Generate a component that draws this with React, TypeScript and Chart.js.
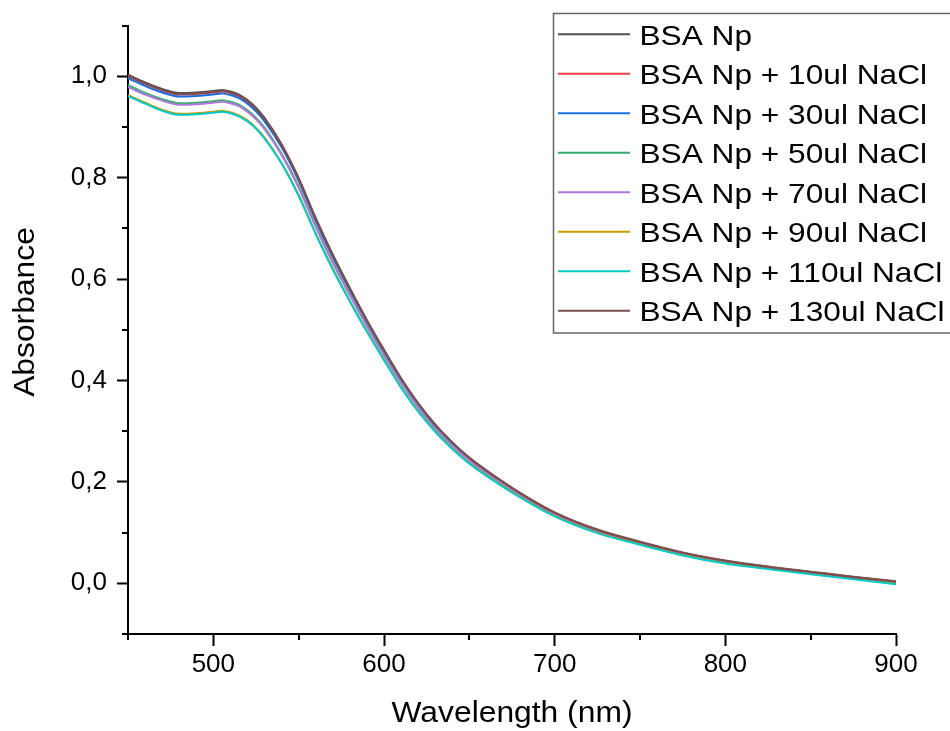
import React, { useEffect, useRef } from "react";
import { Chart, registerables } from "chart.js";

Chart.register(...registerables);

const wavelengths = [450, 460, 470, 480, 490, 500, 505, 510, 515, 520, 525, 530, 540, 550, 560, 570, 580, 590, 600, 610, 620, 630, 640, 650, 660, 680, 700, 725, 750, 775, 800, 825, 850, 875, 900];

const bsaNp = [1.003, 0.988, 0.975, 0.967, 0.968, 0.971, 0.973, 0.970, 0.964, 0.953, 0.938, 0.918, 0.866, 0.799, 0.720, 0.648, 0.582, 0.519, 0.460, 0.404, 0.355, 0.313, 0.278, 0.248, 0.223, 0.178, 0.140, 0.106, 0.082, 0.061, 0.045, 0.033, 0.023, 0.013, 0.004];
const nacl10 = [1.000, 0.985, 0.972, 0.964, 0.965, 0.968, 0.970, 0.967, 0.961, 0.950, 0.935, 0.915, 0.863, 0.797, 0.718, 0.646, 0.580, 0.517, 0.459, 0.403, 0.354, 0.312, 0.277, 0.247, 0.222, 0.177, 0.139, 0.105, 0.081, 0.060, 0.044, 0.032, 0.022, 0.012, 0.003];
const nacl30 = [0.996, 0.981, 0.968, 0.960, 0.961, 0.964, 0.966, 0.963, 0.957, 0.946, 0.931, 0.911, 0.860, 0.794, 0.715, 0.643, 0.578, 0.515, 0.457, 0.401, 0.353, 0.311, 0.276, 0.246, 0.221, 0.176, 0.138, 0.104, 0.080, 0.059, 0.043, 0.031, 0.021, 0.011, 0.002];
const nacl50 = [0.983, 0.967, 0.955, 0.947, 0.948, 0.951, 0.953, 0.950, 0.944, 0.933, 0.918, 0.899, 0.847, 0.783, 0.705, 0.634, 0.570, 0.508, 0.451, 0.396, 0.348, 0.306, 0.272, 0.243, 0.218, 0.174, 0.136, 0.103, 0.079, 0.058, 0.042, 0.030, 0.020, 0.010, 0.001];
const nacl70 = [0.979, 0.964, 0.952, 0.944, 0.945, 0.948, 0.950, 0.947, 0.941, 0.930, 0.915, 0.896, 0.845, 0.780, 0.703, 0.632, 0.568, 0.506, 0.449, 0.395, 0.347, 0.305, 0.271, 0.242, 0.217, 0.173, 0.136, 0.102, 0.079, 0.058, 0.042, 0.030, 0.020, 0.010, 0.001];
const nacl90 = [0.963, 0.948, 0.934, 0.926, 0.927, 0.930, 0.932, 0.929, 0.923, 0.913, 0.898, 0.879, 0.829, 0.766, 0.690, 0.621, 0.557, 0.497, 0.441, 0.387, 0.340, 0.300, 0.266, 0.237, 0.213, 0.170, 0.133, 0.100, 0.077, 0.056, 0.040, 0.029, 0.019, 0.009, 0.000];
const nacl110 = [0.961, 0.946, 0.932, 0.924, 0.925, 0.928, 0.930, 0.927, 0.921, 0.911, 0.897, 0.877, 0.828, 0.764, 0.689, 0.619, 0.556, 0.496, 0.440, 0.386, 0.339, 0.299, 0.265, 0.236, 0.212, 0.169, 0.132, 0.099, 0.076, 0.055, 0.039, 0.028, 0.018, 0.008, -0.002];
const nacl130 = [1.001, 0.986, 0.973, 0.965, 0.966, 0.969, 0.971, 0.968, 0.962, 0.951, 0.936, 0.916, 0.864, 0.798, 0.719, 0.647, 0.581, 0.518, 0.460, 0.404, 0.355, 0.313, 0.278, 0.247, 0.222, 0.177, 0.139, 0.105, 0.081, 0.060, 0.044, 0.032, 0.022, 0.012, 0.003];

const seriesLabels = ["BSA Np", "BSA Np + 10ul NaCl", "BSA Np + 30ul NaCl", "BSA Np + 50ul NaCl", "BSA Np + 70ul NaCl", "BSA Np + 90ul NaCl", "BSA Np + 110ul NaCl", "BSA Np + 130ul NaCl"];
const seriesValues = [bsaNp, nacl10, nacl30, nacl50, nacl70, nacl90, nacl110, nacl130];
const seriesColors = ["#515151", "#F14040", "#1A6FDF", "#37AD6B", "#B177DE", "#CC9900", "#00CBCC", "#7D4E4E"];

const xMajorTicks = [500, 600, 700, 800, 900];
const yMajorTicks = [0, 0.2, 0.4, 0.6, 0.8, 1.0];
const xMinorTicks = [450, 550, 650, 750, 850];
const yMinorTicks = [-0.1, 0.1, 0.3, 0.5, 0.7, 0.9, 1.1];

const xTitle = "Wavelength (nm)";
const yTitle = "Absorbance";
const FONT = "'Liberation Sans', Arial, sans-serif";

const decorPlugin = {
  id: "decor",
  afterDraw(chart: any) {
    const ctx = chart.ctx;
    const xs = chart.scales.x;
    const ys = chart.scales.y;
    const area = chart.chartArea;
    ctx.save();
    ctx.strokeStyle = "#000";
    ctx.lineWidth = 2;
    xMinorTicks.forEach((v) => {
      const px = Math.round(xs.getPixelForValue(v));
      ctx.beginPath();
      ctx.moveTo(px, area.bottom);
      ctx.lineTo(px, area.bottom + 6);
      ctx.stroke();
    });
    yMinorTicks.forEach((v) => {
      const py = Math.round(ys.getPixelForValue(v));
      ctx.beginPath();
      ctx.moveTo(area.left, py);
      ctx.lineTo(area.left - 6, py);
      ctx.stroke();
    });
    ctx.fillStyle = "#000";
    ctx.font = `30px ${FONT}`;
    ctx.textAlign = "center";
    ctx.textBaseline = "alphabetic";
    ctx.save();
    ctx.translate((area.left + area.right) / 2, 722);
    ctx.scale(1.06, 1);
    ctx.fillText(xTitle, 0, 0);
    ctx.restore();
    ctx.save();
    ctx.translate(34, 312);
    ctx.rotate(-Math.PI / 2);
    ctx.scale(1.06, 1);
    ctx.fillText(yTitle, 0, 0);
    ctx.restore();
    const lx = 553.5;
    const ly = 13.5;
    ctx.strokeStyle = "#666";
    ctx.lineWidth = 1.5;
    ctx.strokeRect(lx, ly, 420, 319.5);
    ctx.font = `28px ${FONT}`;
    ctx.textAlign = "left";
    seriesLabels.forEach((label, i) => {
      const y = 34.3 + i * 39.5;
      ctx.strokeStyle = seriesColors[i];
      ctx.lineWidth = 2;
      ctx.beginPath();
      ctx.moveTo(558, y);
      ctx.lineTo(630, y);
      ctx.stroke();
      ctx.save();
      ctx.translate(639.5, y + 10.5);
      ctx.scale(1.13, 1);
      ctx.fillStyle = "#000";
      ctx.fillText(label, 0, 0);
      ctx.restore();
    });
    ctx.restore();
  },
};

export default function App() {
  const canvasRef = useRef<HTMLCanvasElement | null>(null);

  useEffect(() => {
    document.body.style.margin = "0";
    const canvas = canvasRef.current;
    if (!canvas) return;
    const chart = new Chart(canvas, {
      type: "line",
      data: {
        labels: wavelengths,
        datasets: seriesLabels.map((label, i) => ({
          label,
          data: wavelengths.map((w, j) => ({ x: w, y: seriesValues[i][j] })),
          borderColor: seriesColors[i],
          backgroundColor: seriesColors[i],
          borderWidth: 2,
          pointRadius: 0,
          cubicInterpolationMode: "monotone" as const,
          fill: false,
          order: seriesLabels.length - i,
        })),
      },
      options: {
        responsive: false,
        animation: false,
        devicePixelRatio: 1,
        layout: { padding: { top: 18, right: 54, left: 0, bottom: 0 } },
        plugins: {
          legend: { display: false },
          tooltip: { enabled: false },
        },
        scales: {
          x: {
            type: "linear",
            min: 450,
            max: 900,
            border: { display: true, color: "#000", width: 2 },
            grid: { drawOnChartArea: false, drawTicks: true, tickLength: 12, tickColor: "#000", tickWidth: 2 },
            ticks: {
              color: "#000",
              font: { family: FONT, size: 26 },
              padding: 3,
              maxRotation: 0,
              autoSkip: false,
              callback: (v: any) => String(Math.round(Number(v))),
            },
            afterBuildTicks: (s: any) => { s.ticks = xMajorTicks.map((v) => ({ value: v })); },
            afterFit: (s: any) => { s.height = 97; },
          },
          y: {
            type: "linear",
            min: -0.1,
            max: 1.1,
            border: { display: true, color: "#000", width: 2 },
            grid: { drawOnChartArea: false, drawTicks: true, tickLength: 11, tickColor: "#000", tickWidth: 2 },
            ticks: {
              color: "#000",
              font: { family: FONT, size: 26 },
              padding: 10,
              autoSkip: false,
              callback: (v: any) => Number(v).toFixed(1).replace(".", ","),
            },
            afterBuildTicks: (s: any) => { s.ticks = yMajorTicks.map((v) => ({ value: v })); },
            afterFit: (s: any) => { s.width = 128; },
          },
        },
      },
      plugins: [decorPlugin],
    });
    return () => chart.destroy();
  }, []);

  return (
    <div style={{ width: 950, height: 731, background: "#fff" }}>
      <canvas ref={canvasRef} width={950} height={731} style={{ display: "block" }} />
    </div>
  );
}
